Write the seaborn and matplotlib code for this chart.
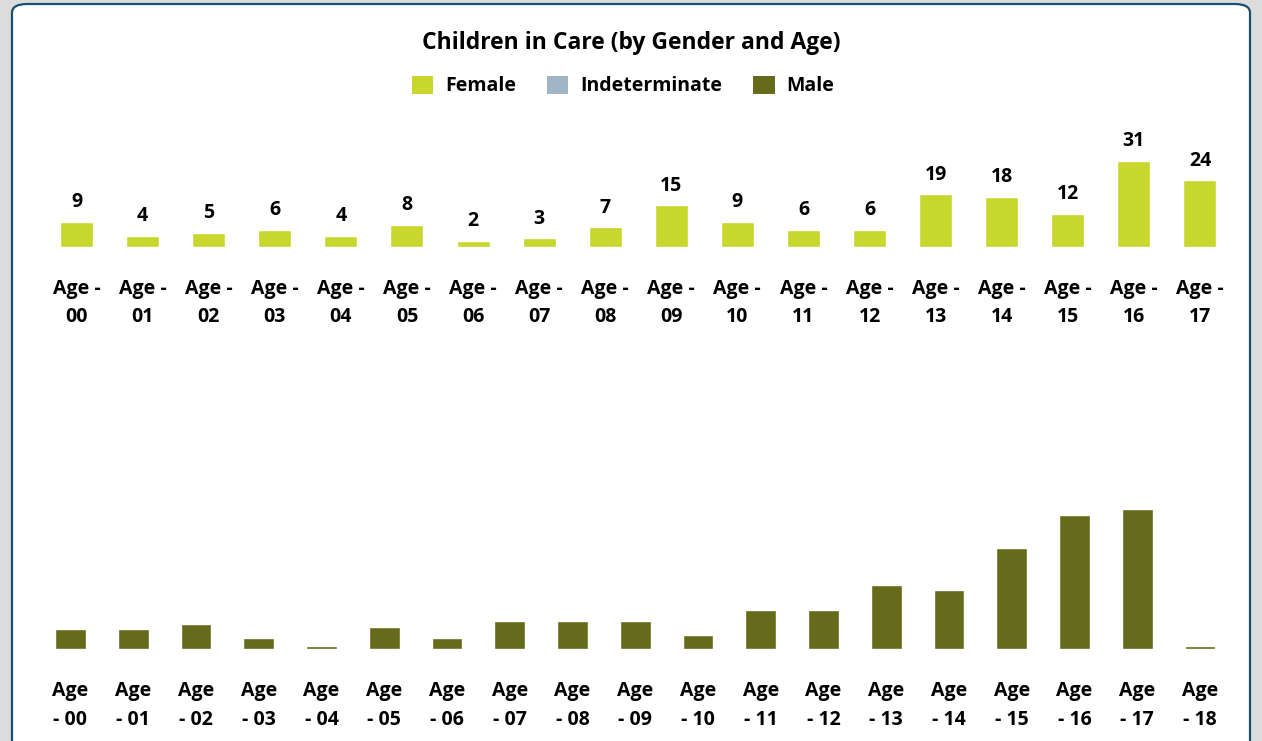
import matplotlib
matplotlib.use("Agg")
import matplotlib.pyplot as plt
from matplotlib.patches import FancyBboxPatch, Patch
import seaborn as sns
import pandas as pd

# ---- data ----
female_ages = ["Age -\n00", "Age -\n01", "Age -\n02", "Age -\n03", "Age -\n04", "Age -\n05",
               "Age -\n06", "Age -\n07", "Age -\n08", "Age -\n09", "Age -\n10", "Age -\n11",
               "Age -\n12", "Age -\n13", "Age -\n14", "Age -\n15", "Age -\n16", "Age -\n17"]
female_counts = [9, 4, 5, 6, 4, 8, 2, 3, 7, 15, 9, 6, 6, 19, 18, 12, 31, 24]

male_ages = ["Age\n- 00", "Age\n- 01", "Age\n- 02", "Age\n- 03", "Age\n- 04", "Age\n- 05",
             "Age\n- 06", "Age\n- 07", "Age\n- 08", "Age\n- 09", "Age\n- 10", "Age\n- 11",
             "Age\n- 12", "Age\n- 13", "Age\n- 14", "Age\n- 15", "Age\n- 16", "Age\n- 17",
             "Age\n- 18"]
male_counts = [7, 7, 9, 4, 1, 8, 4, 10, 10, 10, 5, 14, 14, 23, 21, 36, 48, 50, 1]

series_names = ["Female", "Indeterminate", "Male"]
series_colors = ["#C8D72E", "#A0B6C6", "#656B1A"]

title_text = "Children in Care (by Gender and Age)"

# ---- style ----
sns.set_theme(style="white")
plt.rcParams["font.family"] = ["Open Sans", "DejaVu Sans"]
plt.rcParams["font.weight"] = "bold"
plt.rcParams["text.color"] = "black"

W, H = 1262, 741
fig = plt.figure(figsize=(W / 100, H / 100), dpi=100)
fig.patch.set_facecolor("#dcdcdc")

# card
card = FancyBboxPatch((12 / W, -20 / H), (1250 - 12) / W, (737 + 20) / H,
                      boxstyle="round,pad=0,rounding_size=0.012",
                      transform=fig.transFigure, facecolor="white",
                      edgecolor="#1B4F72", linewidth=1.6, zorder=-10)
fig.patches.append(card)

def fx(px):
    return px / W

def fy(py):
    return 1 - py / H

# top axes (Female)
top_left, top_right = 43.5, 1233.0
top_base, top_top = 246.7, 130.0
ax1 = fig.add_axes([fx(top_left), fy(top_base), fx(top_right - top_left), (top_base - top_top) / H])
df_f = pd.DataFrame({"age": female_ages, "count": female_counts})
sns.barplot(data=df_f, x="age", y="count", color=series_colors[0], saturation=1,
            width=0.5, ax=ax1)
ax1.set_ylim(0, (top_base - top_top) / 2.76)
ax1.set_xlim(-0.5, len(female_ages) - 0.5)
ax1.bar_label(ax1.containers[0], padding=7, fontsize=14, fontweight="bold", color="black")

# bottom axes (Male)
bot_left, bot_right = 39.1, 1231.4
bot_base, bot_top = 649.0, 470.0
ax2 = fig.add_axes([fx(bot_left), fy(bot_base), fx(bot_right - bot_left), (bot_base - bot_top) / H])
df_m = pd.DataFrame({"age": male_ages, "count": male_counts})
sns.barplot(data=df_m, x="age", y="count", color=series_colors[2], saturation=1,
            width=0.49, ax=ax2)
ax2.set_ylim(0, (bot_base - bot_top) / 2.8)
ax2.set_xlim(-0.5, len(male_ages) - 0.5)

for ax in (ax1, ax2):
    ax.set_facecolor("none")
    ax.patch.set_visible(False)
    for s in ax.spines.values():
        s.set_visible(False)
    ax.set_yticks([])
    ax.set_xlabel("")
    ax.set_ylabel("")
    ax.tick_params(axis="x", length=0, pad=23, labelsize=14, labelcolor="black")
    for lab in ax.get_xticklabels():
        lab.set_fontweight("bold")
        lab.set_linespacing(1.58)

# title
fig.text(fx(631), fy(43), title_text, ha="center", va="center",
         fontsize=16.5, fontweight="bold", color="black")

# legend
handles = [Patch(facecolor=c, edgecolor="none") for c in series_colors]
leg = fig.legend(handles, series_names, loc="center", bbox_to_anchor=(fx(623), fy(86)),
                 ncol=3, frameon=False, prop={"weight": "bold", "size": 14},
                 handlelength=1.1, handleheight=1.1, handletextpad=0.6,
                 columnspacing=1.6, labelcolor="black")

fig.savefig("out.png", dpi=100, facecolor=fig.get_facecolor())
